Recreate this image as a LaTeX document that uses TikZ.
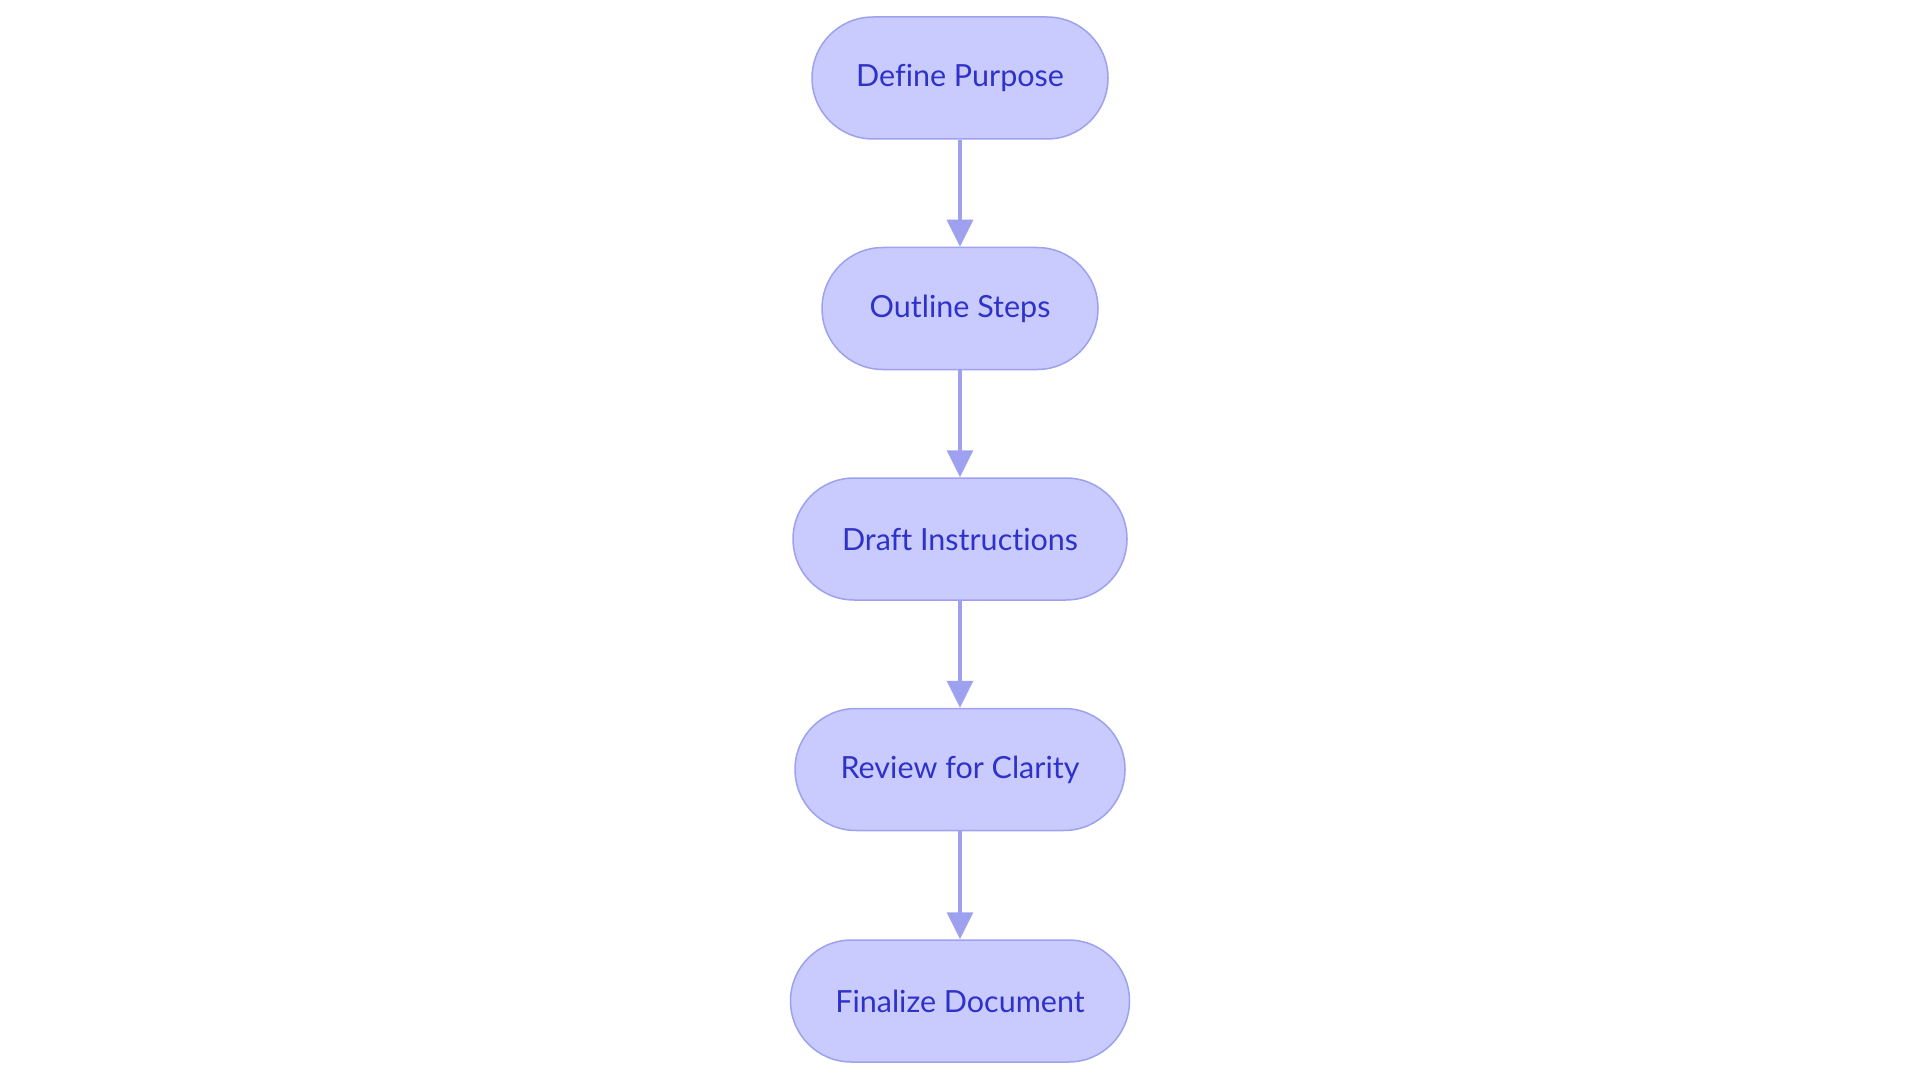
\documentclass[tikz,border=0pt]{standalone}
\usepackage{fontspec}
\setmainfont{Lato}[Ligatures=NoCommon]
\usetikzlibrary{arrows.meta}
\definecolor{nodefill}{HTML}{C9CAFD}
\definecolor{nodeline}{HTML}{9DA1F0}
\definecolor{nodetext}{HTML}{2F32C8}
\tikzset{
  stepbox/.style={draw=nodeline, fill=nodefill, line width=1.5pt, rounded corners=61pt,
    minimum height=122pt, text=nodetext, font=\fontsize{30.5}{36}\selectfont, inner sep=0pt},
  flow/.style={draw=nodeline, line width=3.2pt, -{Triangle[length=27pt,width=26pt]}}
}
\begin{document}
\begin{tikzpicture}[x=1pt,y=1pt]
\useasboundingbox (0,0) rectangle (1920,-1083);
\node[stepbox, minimum width=296pt] (a) at (960,-78) {Define Purpose};
\node[stepbox, minimum width=276pt] (b) at (960,-308.5) {Outline Steps};
\node[stepbox, minimum width=334pt] (c) at (960,-539) {Draft Instructions};
\node[stepbox, minimum width=330pt] (d) at (960,-769.5) {Review for Clarity};
\node[stepbox, minimum width=339pt] (e) at (960,-1001) {Finalize Document};
\draw[flow] (a) -- (b);
\draw[flow] (b) -- (c);
\draw[flow] (c) -- (d);
\draw[flow] (d) -- (e);
\end{tikzpicture}
\end{document}
